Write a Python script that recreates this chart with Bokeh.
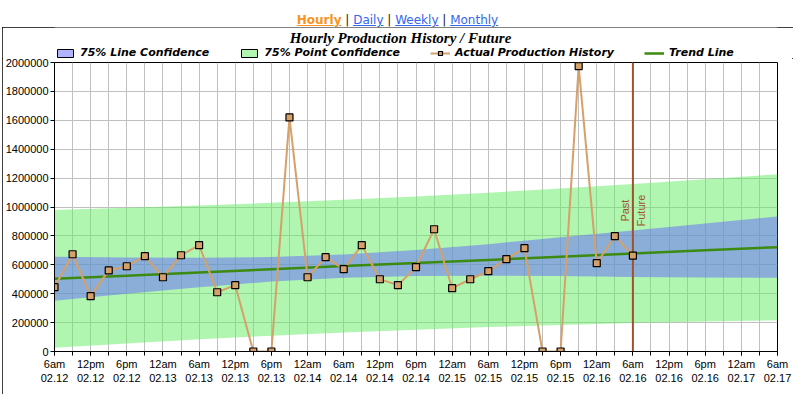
import math
from bokeh.plotting import figure
from bokeh.models import (Div, Legend, LegendItem, Label, FixedTicker,
                          NumeralTickFormatter, ColumnDataSource)
from bokeh.layouts import column
from bokeh.embed import file_html
from bokeh.resources import INLINE

# ---------------- data ----------------
# hours after 6am 02.12, one reading every 3 hours
hours = list(range(0, 97, 3))
production = [445000, 673000, 383000, 561000, 590000, 660000, 514000, 666000, 736000,
              410000, 459000, 0, 0, 1620000, 514000, 653000, 570000, 736000, 500000,
              459000, 584000, 846000, 438000, 500000, 556000, 639000, 715000, 0, 0,
              1975000, 611000, 798000, 664000]

band_hours = [0, 12, 24, 36, 48, 60, 72, 84, 96, 108, 120]
trend = [503000, 525000, 547000, 569000, 591000, 612000, 634000, 656000, 678000, 700000, 722000]
line_conf_hi = [655000, 650000, 649000, 654000, 672000, 702000, 743000, 790000, 838000, 886000, 934000]
line_conf_lo = [351000, 400000, 445000, 484000, 510000, 522000, 525000, 522000, 516000, 512000, 510000]
point_conf_hi = [980000, 994000, 1010000, 1029000, 1050000, 1073000, 1099000, 1128000, 1159000, 1192000, 1227000]
point_conf_lo = [26000, 56000, 84000, 109000, 132000, 151000, 169000, 184000, 197000, 208000, 217000]

x_ticks = list(range(0, 121, 6))
x_tick_labels = ["6am\n02.12", "12pm\n02.12", "6pm\n02.12", "12am\n02.13", "6am\n02.13",
                 "12pm\n02.13", "6pm\n02.13", "12am\n02.14", "6am\n02.14", "12pm\n02.14",
                 "6pm\n02.14", "12am\n02.15", "6am\n02.15", "12pm\n02.15", "6pm\n02.15",
                 "12am\n02.16", "6am\n02.16", "12pm\n02.16", "6pm\n02.16", "12am\n02.17",
                 "6am\n02.17"]
y_ticks = list(range(0, 2000001, 200000))
now_hour = 96

title_text = "Hourly Production History / Future"
series_names = ["75% Line Confidence", "75% Point Confidence", "Actual Production History", "Trend Line"]
nav_links = ["Hourly", "Daily", "Weekly", "Monthly"]

# ---------------- styles ----------------
BLUE = "#6467ff"
GREEN = "#61eb61"
TAN = "#d6a06a"
TREND = "#3c8a10"
SIENNA = "#a0522d"
NAN = float("nan")

parts = []
for i, name in enumerate(nav_links):
    if i == 0:
        parts.append('<a style="color:#f7931e;font-weight:bold;text-decoration:underline;">%s</a>' % name)
    else:
        parts.append('<a style="color:#3366ee;text-decoration:underline;">%s</a>' % name)
links = Div(
    text=('<div style="text-align:center;font-family:\'DejaVu Sans\';font-size:12px;'
          'padding-top:12px;width:795px;white-space:nowrap;color:#222;">'
          + " | ".join(parts) + '</div>'),
    width=795, height=27, margin=0)

# ---------------- header (title + legend) ----------------
h = figure(width=791, height=31, output_backend="svg", toolbar_location=None,
           x_range=(0, 1), y_range=(0, 1), min_border=0, margin=0)
h.axis.visible = False
h.grid.visible = False
h.outline_line_color = None
h.background_fill_color = "white"
h.border_fill_color = "white"

# legend proxies (no visible geometry)
sw_line = h.quad(left=[NAN], right=[NAN], top=[NAN], bottom=[NAN], fill_color=BLUE,
                 fill_alpha=0.5, line_color="black", line_width=1)
sw_point = h.quad(left=[NAN], right=[NAN], top=[NAN], bottom=[NAN], fill_color=GREEN,
                  fill_alpha=0.5, line_color="black", line_width=1)
sw_prod_l = h.line(x=[NAN], y=[NAN], line_color=TAN, line_width=2)
sw_prod_p = h.scatter(x=[NAN], y=[NAN], marker="square", size=7, fill_color=TAN,
                      line_color="black", line_width=1.2)
sw_trend = h.line(x=[NAN], y=[NAN], line_color=TREND, line_width=2.5)

legend = Legend(items=[
    LegendItem(label=series_names[0], renderers=[sw_line]),
    LegendItem(label=series_names[1], renderers=[sw_point]),
    LegendItem(label=series_names[2], renderers=[sw_prod_l, sw_prod_p]),
    LegendItem(label=series_names[3], renderers=[sw_trend]),
], orientation="horizontal", location=(1, -1), padding=0, margin=0, spacing=30,
    glyph_width=20, glyph_height=10, label_standoff=5, label_height=13,
    label_text_font="DejaVu Sans", label_text_font_size="11px",
    label_text_font_style="bold italic", label_text_color="black",
    border_line_color=None, background_fill_alpha=0)
h.add_layout(legend)

h.add_layout(Label(x=346, y=21, x_units="screen", y_units="screen", text=title_text,
                   text_align="center", text_baseline="alphabetic",
                   text_font="Liberation Serif", text_font_size="15px",
                   text_font_style="bold italic", text_color="black"))

# ---------------- main plot ----------------
p = figure(width=791, height=336, output_backend="svg", toolbar_location=None,
           x_range=(0, 120), y_range=(0, 2000000),
           min_border_left=50, min_border_right=16, min_border_top=4, min_border_bottom=43,
           margin=0)
p.background_fill_color = "white"
p.border_fill_color = "white"
p.outline_line_color = "black"
p.outline_line_width = 1

p.xgrid.ticker = FixedTicker(ticks=list(range(0, 121, 3)))
p.ygrid.ticker = FixedTicker(ticks=y_ticks)
for g in (p.xgrid, p.ygrid):
    g.grid_line_color = "#c0c0c0"
    g.grid_line_width = 1

p.varea(x=band_hours, y1=point_conf_lo, y2=point_conf_hi, fill_color=GREEN, fill_alpha=0.5)
p.varea(x=band_hours, y1=line_conf_lo, y2=line_conf_hi, fill_color=BLUE, fill_alpha=0.5)
p.line(band_hours, trend, line_color=TREND, line_width=2.5)
p.segment(x0=[now_hour], y0=[0], x1=[now_hour], y1=[2000000], line_color=SIENNA, line_width=2)

src = ColumnDataSource(dict(x=hours, y=production))
p.line("x", "y", source=src, line_color=TAN, line_width=2)
p.scatter("x", "y", source=src, marker="square", size=7, fill_color=TAN,
          line_color="black", line_width=1.2)

p.add_layout(Label(x=now_hour, y=975000, text="Past", angle=math.pi / 2, x_offset=-2,
                   text_align="center", text_baseline="bottom", text_font="Liberation Sans",
                   text_font_size="11px", text_color=SIENNA))
p.add_layout(Label(x=now_hour, y=975000, text="Future", angle=math.pi / 2, x_offset=2,
                   text_align="center", text_baseline="top", text_font="Liberation Sans",
                   text_font_size="11px", text_color=SIENNA))

p.xaxis.ticker = FixedTicker(ticks=x_ticks, minor_ticks=list(range(0, 121, 3)))
p.xaxis.major_label_overrides = {t: lab for t, lab in zip(x_ticks, x_tick_labels)}
p.yaxis.ticker = FixedTicker(ticks=y_ticks)
p.yaxis.formatter = NumeralTickFormatter(format="0")
for ax in (p.xaxis, p.yaxis):
    ax.axis_line_color = "black"
    ax.major_tick_line_color = "black"
    ax.minor_tick_line_color = "black"
    ax.major_tick_in = 0
    ax.minor_tick_in = 0
    ax.major_tick_out = 4
    ax.major_label_text_font = "Liberation Sans"
    ax.major_label_text_font_size = "11px"
    ax.major_label_text_color = "black"
    ax.major_label_standoff = 2
p.xaxis.minor_tick_out = 4
p.yaxis.minor_tick_out = 0

chart = column(h, p, margin=(0, 0, 0, 2), spacing=0,
               styles={"outline": "1px solid black", "outline-offset": "-1px"})
layout = column(links, chart, margin=0, spacing=0)
open("out.html", "w").write(file_html(layout, INLINE))
